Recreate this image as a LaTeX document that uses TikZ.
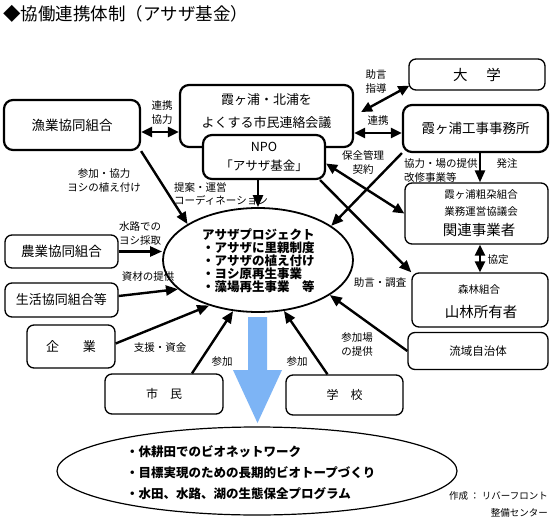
\documentclass[tikz,border=0pt]{standalone}
\usepackage{fontspec}
\setmainfont{Noto Sans CJK JP}
\usetikzlibrary{arrows.meta,shapes.geometric,calc}
\definecolor{arrowblue}{RGB}{125,180,245}
\newcommand{\fsz}[2]{\fontsize{#1}{#2}\selectfont}
\tikzset{
  bx/.style={draw, line width=1.3pt, rounded corners=7pt, fill=white, inner sep=0pt, align=center},
  bxk/.style={bx, line width=2.2pt, rounded corners=9pt},
  conn/.style={line width=2.4pt, -{Triangle[length=12pt,width=10pt]}},
  dconn/.style={line width=2.4pt, {Triangle[length=11pt,width=10pt]}-{Triangle[length=11pt,width=10pt]}},
  lbl/.style={inner sep=0pt, font=\fsz{10.5}{14}, align=center},
  txt/.style={inner sep=0pt, align=center}
}
\begin{document}
\begin{tikzpicture}[x=1pt,y=-1pt]
\useasboundingbox (0,0) rectangle (550,520);
\fill[white] (0,0) rectangle (550,520);

% title
\node[anchor=west, inner sep=0pt, font=\fsz{17.5}{20}] (title) at (3,14) {◆協働連携体制（アサザ基金）};

% boxes
\node[bxk, minimum width=136pt, minimum height=50pt, font=\fsz{13.5}{16}] (gyo) at (72,125) {漁業協同組合};
\node[bxk, minimum width=173pt, minimum height=62pt] (kaigi) at (266.5,116) {};
\node[txt, font=\fsz{13}{23}] (kaigitxt) at (266.5,111) {霞ヶ浦・北浦を\\よくする市民連絡会議};
\node[bxk, minimum width=122pt, minimum height=44pt, font=\fsz{12.5}{19}] (npo) at (264,157) {NPO\\「アサザ基金」};
\node[bx, minimum width=136pt, minimum height=31pt, font=\fsz{14.5}{16}] (daigaku) at (477,74.5) {大\hspace{19pt}学};
\node[bxk, minimum width=145pt, minimum height=47pt, font=\fsz{13.5}{16}] (jimusho) at (475.5,128.5) {霞ヶ浦工事事務所};
\node[bx, minimum width=143pt, minimum height=61pt] (kanren) at (476.5,213.5) {};
\node[txt, font=\fsz{10.5}{12}] (kanren1) at (481,195) {霞ヶ浦粗朶組合};
\node[txt, font=\fsz{10.5}{12}] (kanren2) at (481,212) {業務運営協議会};
\node[txt, font=\fsz{14.5}{16}] (kanren3) at (479,230) {関連事業者};
\node[bx, minimum width=136pt, minimum height=54pt] (sanrin) at (480,300) {};
\node[txt, font=\fsz{10.5}{12}] (sanrin1) at (479,290) {森林組合};
\node[txt, font=\fsz{14.5}{16}] (sanrin2) at (481,312) {山林所有者};
\node[bx, minimum width=140pt, minimum height=37pt, font=\fsz{11.5}{14}] (ryuiki) at (478,351) {流域自治体};
\node[bx, minimum width=113pt, minimum height=33pt, font=\fsz{13.5}{16}] (nokyo) at (61.5,251.5) {農業協同組合};
\node[bx, minimum width=113pt, minimum height=34pt, font=\fsz{13}{16}] (seikyo) at (61.5,300) {生活協同組合等};
\node[bx, minimum width=88pt, minimum height=43pt, font=\fsz{13}{16}] (kigyo) at (71,346.5) {企\hspace{24pt}業};
\node[bx, minimum width=118pt, minimum height=40pt, font=\fsz{12}{14}] (shimin) at (164,394) {市\hspace{12pt}民};
\node[bx, minimum width=117pt, minimum height=40pt, font=\fsz{12}{14}] (gakko) at (344.5,395) {学\hspace{12pt}校};

% central ellipse
\node[draw, ellipse, line width=1.8pt, minimum width=190pt, minimum height=104pt, inner sep=0pt] (proj) at (258,260) {};
\node[anchor=west, align=left, inner sep=0pt, font=\bfseries\fsz{12.5}{13}] (projtxt) at (202,261)
  {アサザプロジェクト\\・アサザに里親制度\\・アサザの植え付け\\・ヨシ原再生事業\\・藻場再生事業　等};

% blue arrow
\fill[arrowblue] (248,317) -- (267,317) -- (267,370) -- (282,370) -- (257.5,423) -- (233,370) -- (248,370) -- cycle;

% goal ellipse
\node[draw, ellipse, line width=1.2pt, minimum width=400pt, minimum height=88pt, inner sep=0pt] (goal) at (257,471) {};
\node[anchor=west, align=left, inner sep=0pt, font=\bfseries\fsz{12.5}{21}] (goaltxt) at (126,473)
  {・休耕田でのビオネットワーク\\・目標実現のための長期的ビオトープづくり\\・水田、水路、湖の生態保全プログラム};

\node[anchor=east, align=right, inner sep=0pt, font=\fsz{9.5}{17}] (credit) at (548,504) {作成 ： リバーフロント\\整備センター};

% connectors
\path ($(gyo.east)+(0,7)$) coordinate (g1);
\draw[dconn] (g1) -- (g1 -| kaigi.west);
\node[lbl] (l1) at (162,113) {連携\\協力};

\draw[dconn] ($(kaigi.east)+(7,-4)$) -- ($(daigaku.south west)+(1,-5)$);
\node[lbl] (l2) at (376,82) {助言\\指導};

\path ($(jimusho.west)+(0,4.5)$) coordinate (j1);
\draw[dconn] (j1 -| kaigi.east) -- (j1);
\node[lbl] (l3) at (378,121) {連携};

\path ($(jimusho.south)+(4.5,0)$) coordinate (j2);
\draw[conn] (j2) -- (j2 |- kanren.north);
\node[lbl, anchor=west, align=left] (l4a) at (404,171) {協力・場の提供\\改修事業等};
\node[lbl] (l4b) at (507,164) {発注};

\draw[dconn] (kanren.south -| sanrin.north) -- (sanrin.north);
\node[lbl] (l5) at (498,260) {協定};

\draw[conn] (gyo.south east) -- (proj.153);
\node[lbl] (l6) at (104,181) {参加・協力\\ヨシの植え付け};

\draw[conn] (npo.south -| proj.north) -- (proj.north);
\node[lbl, anchor=west, align=left, font=\fsz{10.5}{13}] (l7) at (174,194) {提案・運営\\コーディネーション};

\draw[conn] (jimusho.south west) -- (proj.25);

\draw[dconn] (npo.-6) -- (kanren.west);
\node[lbl] (l9) at (363,162) {保全管理\\契約};

\draw[conn] ($(npo.south east)+(-6,0)$) -- (sanrin.north west);
\node[lbl] (l10) at (380,283) {助言・調査};

\draw[conn] (nokyo.east) -- (nokyo.east -| proj.west);
\node[lbl, align=left] (l11) at (140,234) {水路での\\ヨシ採取};

\draw[conn] ($(seikyo.east)+(0,-4)$) -- (proj.200);
\node[lbl] (l12) at (148,277) {資材の提供};

\draw[conn] ($(kigyo.east)+(0,-3)$) -- (proj.223);
\node[lbl] (l13) at (160,348) {支援・資金};

\draw[conn] ($(shimin.north)+(28,0)$) -- (proj.244);
\node[lbl] (l14) at (222,362) {参加};

\draw[conn] ($(gakko.north)+(-17,0)$) -- (proj.297);
\node[lbl] (l15) at (297,362) {参加};

\draw[conn] (ryuiki.west) -- (proj.334);
\node[lbl] (l16) at (357,345) {参加場\\の提供};
\end{tikzpicture}
\end{document}
